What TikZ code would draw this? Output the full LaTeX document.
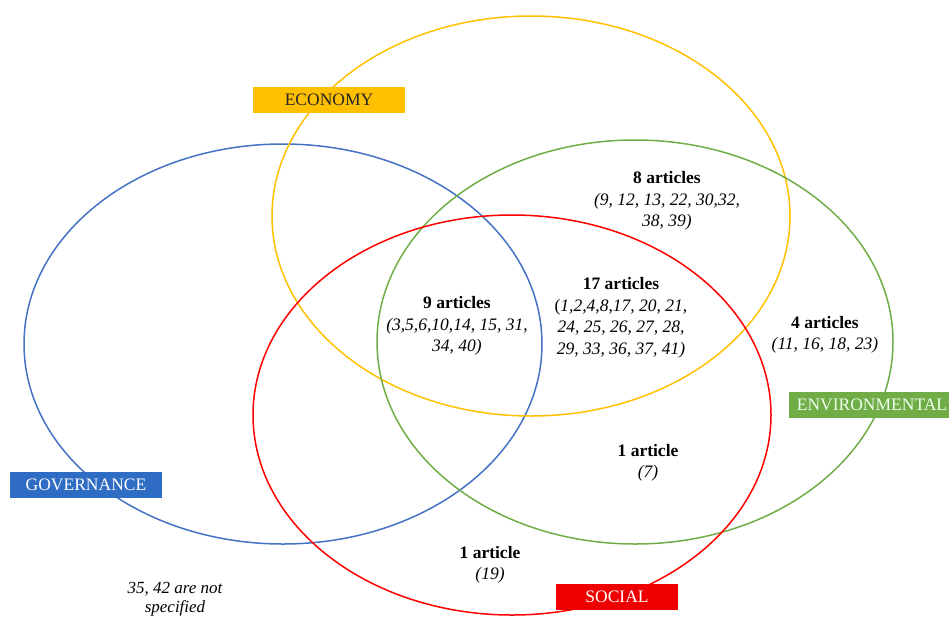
\documentclass[tikz,border=0pt]{standalone}
\usepackage{fontspec}
\setmainfont{Liberation Serif}
\definecolor{ecoY}{HTML}{FFC000}
\definecolor{govB}{HTML}{4472C4}
\definecolor{envG}{HTML}{70AD47}
\definecolor{socR}{HTML}{FF0000}
\definecolor{socF}{HTML}{EE0000}
\definecolor{govF}{HTML}{2F6CC4}
\begin{document}
\begin{tikzpicture}[x=1pt,y=-1pt,
  setline/.style={line width=1.5pt},
  catbox/.style={rectangle, minimum height=26pt, inner sep=0pt, font=\fontsize{17.5}{20}\selectfont},
  countlbl/.style={align=center, inner sep=0pt, font=\fontsize{17.5}{21.5}\selectfont}]
\useasboundingbox (0,0) rectangle (949,618);
\clip (0,0) rectangle (949,618);
% ellipses
\draw[setline, govB] (283,344) ellipse [x radius=259, y radius=200];
\draw[setline, ecoY] (531,216) ellipse [x radius=259, y radius=200];
\draw[setline, envG] (635,342) ellipse [x radius=258, y radius=202];
\draw[setline, socR] (512,415) ellipse [x radius=259, y radius=200];
% category boxes
\node[catbox, fill=ecoY, minimum width=152pt, text={black!85}] (eco) at (329,99.5) {ECONOMY};
\node[catbox, fill=envG, minimum width=166pt, text=white!92!green] (env) at (872,405) {ENVIRONMENTAL};
\node[catbox, fill=govF, minimum width=152pt, text=white] (gov) at (86,485) {GOVERNANCE};
\node[catbox, fill=socF, minimum width=122pt, text=white] (soc) at (617,597) {SOCIAL};
% counts
\node[countlbl] (c8) at (667,201) {\textbf{8 articles}\\\textit{(9, 12, 13, 22, 30,32,}\\\textit{38, 39)}};
\node[countlbl] (c17) at (621,318) {\textbf{17 articles}\\(\textit{1,2,4,8,17, 20, 21,}\\\textit{24, 25, 26, 27, 28,}\\\textit{29, 33, 36, 37, 41)}};
\node[countlbl] (c4) at (825,335) {\textbf{4 articles}\\\textit{(11, 16, 18, 23)}};
\node[countlbl] (c9) at (457,326) {\textbf{9 articles}\\\textit{(3,5,6,10,14, 15, 31,}\\\textit{34, 40)}};
\node[countlbl] (c1a) at (648,463) {\textbf{1 article}\\\textit{(7)}};
\node[countlbl] (c1b) at (490,565) {\textbf{1 article}\\\textit{(19)}};
\node[countlbl, font=\fontsize{17}{19}\selectfont\itshape] (ns) at (175,599) {35, 42 are not\\specified};
\end{tikzpicture}
\end{document}
